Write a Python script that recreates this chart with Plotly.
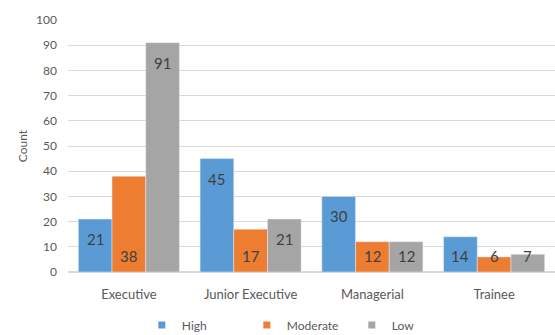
import plotly.graph_objects as go

categories = ["Executive", "Junior Executive", "Managerial", "Trainee"]
high = [21, 45, 30, 14]
moderate = [38, 17, 12, 6]
low = [91, 21, 12, 7]
y_ticks = list(range(0, 101, 10))

series = [("High", high, "#5B9BD5", "end"),
          ("Moderate", moderate, "#ED7D31", "base"),
          ("Low", low, "#A5A5A5", "end")]

BARGAP = 0.17
PLOT_H = 335 - 20 - 63
PX_PER_UNIT = PLOT_H / 100.0

fig = go.Figure()
for name, vals, color, _ in series:
    fig.add_trace(go.Bar(x=categories, y=vals, name=name, marker_color=color,
                         showlegend=False))
    fig.add_trace(go.Scatter(x=[None], y=[None], mode="markers", name=name,
                             marker=dict(symbol="square", size=7, color=color)))

# data labels
w = (1 - BARGAP) / len(series)
for i, (name, vals, color, anchor) in enumerate(series):
    for j, v in enumerate(vals):
        xpos = j + (i - (len(series) - 1) / 2) * w
        if anchor == "base":
            y, shift = 0, 16
        else:
            top_px = v * PX_PER_UNIT
            y = v
            shift = -20 if top_px - 20 >= 16 else 16 - top_px
        fig.add_annotation(x=xpos, y=y, xref="x", yref="y", text=str(v),
                           showarrow=False, yshift=shift, yanchor="middle",
                           font=dict(size=15, color="#404040", family="Lato"))

fig.update_layout(
    width=555, height=335,
    margin=dict(l=68, r=0, t=20, b=63, autoexpand=False),
    barmode="group", bargap=BARGAP, bargroupgap=0,
    plot_bgcolor="white", paper_bgcolor="white",
    font=dict(family="Lato", size=12, color="#595959"),
    legend=dict(orientation="h", x=0.475, xanchor="center", yref="container",
                y=0.03, yanchor="middle", font=dict(size=12, color="#595959"),
                itemwidth=30, entrywidth=60, traceorder="normal"),
    yaxis=dict(range=[0, 100], tickvals=y_ticks, showgrid=True, gridcolor="#D9D9D9",
               zeroline=True, zerolinecolor="#D9D9D9", ticks="",
               ticklabelstandoff=10, tickfont=dict(size=12),
               title=dict(text="Count", font=dict(size=12, color="#595959"), standoff=5)),
    xaxis=dict(showline=True, linecolor="#D9D9D9", ticks="", ticklabelstandoff=10,
               tickfont=dict(size=13), range=[-0.5, 3.5]),
)

fig.write_html("out.html")
